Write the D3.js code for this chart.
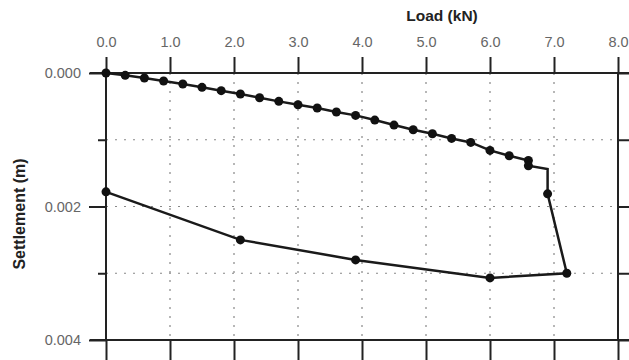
<!DOCTYPE html>
<html>
<head>
<meta charset="utf-8">
<script src="https://cdn.jsdelivr.net/npm/d3@7"></script>
<style>
  body { margin: 0; background: #fff; }
  svg { display: block; font-family: "Liberation Sans", Arial, sans-serif; }
</style>
</head>
<body>
<div id="chart"></div>
<script>
// load path (kN) and settlement (m), loading then unloading
var loads = [0, 0.3, 0.6, 0.9, 1.2, 1.5, 1.8, 2.1, 2.4, 2.7, 3.0, 3.3, 3.6, 3.9, 4.2, 4.5, 4.8, 5.1, 5.4, 5.7, 6.0, 6.3, 6.6, 6.6, 6.9, 6.9, 7.2, 6.0, 3.9, 2.1, 0.0]
var settlements = [0, 0.000035, 0.000075, 0.00012, 0.000165, 0.000215, 0.000265, 0.000315, 0.00037, 0.000425, 0.000475,
  0.000525, 0.000585, 0.000635, 0.000705, 0.00078, 0.00085, 0.00091, 0.00098, 0.00104, 0.00116, 0.00124,
  0.00131, 0.00139, 0.00144, 0.00181, 0.00300, 0.00307, 0.00280, 0.00250, 0.00178]
// the corner at 6.9 kN has no dot in the original
var hasMarker = loads.map((l, i) => i !== 24)
var xTicks = [0, 1, 2, 3, 4, 5, 6, 7, 8]
var yTicks = [0, 0.001, 0.002, 0.003, 0.004]
var yLabelTicks = [0, 0.002, 0.004]

var width = 629, height = 360
var svg = d3.select("#chart").append("svg")
    .attr("width", width)
    .attr("height", height)

var x = d3.scaleLinear().domain([0, 8]).range([106, 618])
var y = d3.scaleLinear().domain([0, 0.004]).range([73, 340])

var data = loads.map((l, i) => ({ load: l, s: settlements[i], dot: hasMarker[i] }))

// grid
svg.append("g").selectAll("line")
    .data(xTicks.slice(1, -1))
    .join("line")
    .attr("x1", d => x(d)).attr("x2", d => x(d))
    .attr("y1", y(0)).attr("y2", y(0.004))
    .attr("stroke", "#888").attr("stroke-width", 1.2)
    .attr("stroke-dasharray", "2,7")

svg.append("g").selectAll("line")
    .data(yTicks.slice(1, -1))
    .join("line")
    .attr("x1", x(0)).attr("x2", x(8))
    .attr("y1", d => y(d)).attr("y2", d => y(d))
    .attr("stroke", "#888").attr("stroke-width", 1.2)
    .attr("stroke-dasharray", "2,7")

// axes
var topAxis = d3.axisTop(x).tickValues(xTicks).tickSize(16).tickFormat(d3.format(".1f"))
var bottomAxis = d3.axisBottom(x).tickValues(xTicks).tickSize(20).tickFormat("")
var leftAxis = d3.axisLeft(y).tickValues(yTicks)
    .tickSize(8).tickFormat(d => yLabelTicks.indexOf(d) >= 0 ? d3.format(".3f")(d) : "")
var rightAxis = d3.axisRight(y).tickValues(yTicks).tickSize(14).tickFormat("")

function styleAxis(g) {
    g.attr("font-size", null)
    g.select(".domain").attr("stroke", "#222").attr("stroke-width", 2)
    g.selectAll(".tick line").attr("stroke", "#222").attr("stroke-width", 2)
    g.selectAll(".tick text").attr("fill", "#666").style("font-size", "14.5px")
}

svg.append("g").attr("transform", "translate(0," + y(0) + ")").call(topAxis).call(styleAxis)
    .call(g => g.select(".domain").attr("d", "M90,0H629"))
    .call(g => g.selectAll(".tick text").attr("y", -26))
svg.append("g").attr("transform", "translate(0," + y(0.004) + ")").call(bottomAxis).call(styleAxis)
    .call(g => g.select(".domain").attr("d", "M90,0H629"))
svg.append("g").attr("transform", "translate(" + x(0) + ",0)").call(leftAxis).call(styleAxis)
    .call(g => g.select(".domain").attr("d", "M0," + y(0) + "V" + y(0.004)))
    .call(g => g.selectAll(".tick").filter(d => yLabelTicks.indexOf(d) >= 0)
        .select("line").attr("x2", -17))
    .call(g => g.selectAll(".tick text").attr("x", -25))
svg.append("g").attr("transform", "translate(" + x(8) + ",0)").call(rightAxis).call(styleAxis)
    .call(g => g.select(".domain").attr("d", "M0," + y(0) + "V" + y(0.004)))

// titles
svg.append("text")
    .attr("x", 442).attr("y", 21)
    .attr("text-anchor", "middle")
    .style("font-size", "15.5px").style("font-weight", "bold").attr("fill", "#222")
    .text("Load (kN)")

svg.append("text")
    .attr("transform", "translate(25,214) rotate(-90)")
    .attr("text-anchor", "middle")
    .style("font-size", "16px").style("font-weight", "bold").attr("fill", "#222")
    .text("Settlement (m)")

// curve
var line = d3.line().x(d => x(d.load)).y(d => y(d.s))
svg.append("path")
    .datum(data)
    .attr("fill", "none")
    .attr("stroke", "#1a1a1a")
    .attr("stroke-width", 2.5)
    .attr("d", line)

svg.append("g").selectAll("circle")
    .data(data.filter(d => d.dot))
    .join("circle")
    .attr("cx", d => x(d.load))
    .attr("cy", d => y(d.s))
    .attr("r", 4.5)
    .attr("fill", "#111")
</script>
</body>
</html>
